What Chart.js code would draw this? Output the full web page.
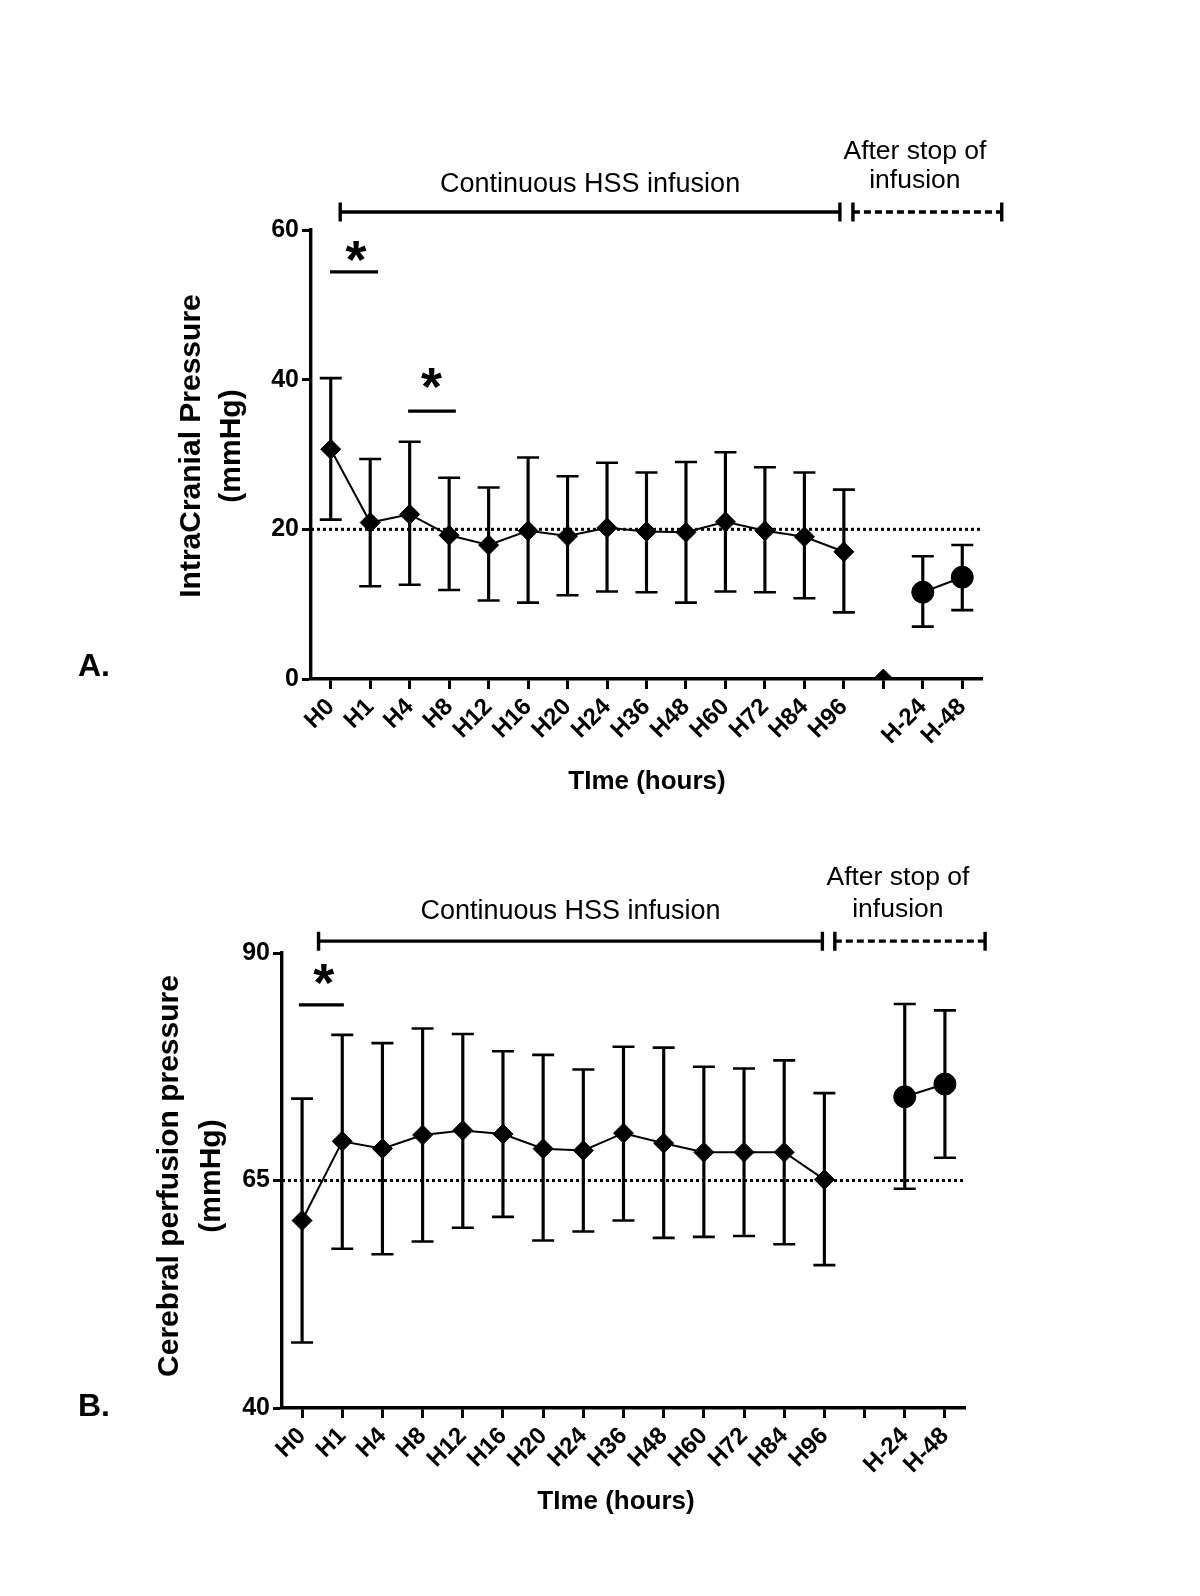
<!DOCTYPE html>
<html><head><meta charset="utf-8">
<script src="https://cdn.jsdelivr.net/npm/chart.js@4.4.1/dist/chart.umd.min.js"></script>
<style>
html,body{margin:0;padding:0;background:#fff;width:1200px;height:1596px;overflow:hidden}
canvas{position:absolute;left:0}
</style></head>
<body>
<canvas id="cA" width="1200" height="800" style="top:0px"></canvas>
<canvas id="cB" width="1200" height="796" style="top:800px"></canvas>
<script>
// ---------- DATA ----------
const categories = ['H0','H1','H4','H8','H12','H16','H20','H24','H36','H48','H60','H72','H84','H96','','H-24','H-48'];

// Panel A: IntraCranial Pressure (mmHg)
const icpMean  = [30.7, 20.9, 22.0, 19.2, 17.9, 19.8, 19.1, 20.2, 19.7, 19.6, 21.0, 19.8, 19.0, 17.0, null, null, null];
const icpAfter = [null, null, null, null, null, null, null, null, null, null, null, null, null, null, null, 11.6, 13.6];
const icpGap   = [null, null, null, null, null, null, null, null, null, null, null, null, null, null, 0, null, null];
const icpUpper = [40.2, 29.4, 31.7, 26.9, 25.6, 29.6, 27.1, 28.9, 27.6, 29.0, 30.3, 28.3, 27.6, 25.3, null, 16.4, 17.9];
const icpLower = [21.3, 12.4, 12.6, 11.9, 10.5, 10.2, 11.2, 11.7, 11.6, 10.2, 11.7, 11.6, 10.8, 8.9, null, 7.0, 9.2];
const icpTicks = [0, 20, 40, 60];
const icpRef = 20;

// Panel B: Cerebral perfusion pressure (mmHg)
const cppMean  = [60.6, 69.3, 68.5, 70.0, 70.5, 70.1, 68.5, 68.3, 70.2, 69.1, 68.1, 68.1, 68.1, 65.1, null, null, null];
const cppAfter = [null, null, null, null, null, null, null, null, null, null, null, null, null, null, null, 74.2, 75.6];
const cppUpper = [74.0, 81.0, 80.1, 81.7, 81.1, 79.2, 78.8, 77.2, 79.7, 79.6, 77.5, 77.3, 78.2, 74.6, null, 84.4, 83.7];
const cppLower = [47.2, 57.5, 56.9, 58.3, 59.8, 61.0, 58.4, 59.4, 60.6, 58.7, 58.8, 58.9, 58.0, 55.7, null, 64.1, 67.5];
const cppTicks = [40, 65, 90];
const cppRef = 65;

// annotation texts
const periodLabel = 'Continuous HSS infusion';
const afterLabel = ['After stop of', 'infusion'];
const xTitle = 'TIme (hours)';

// ---------- RENDERING ----------
const FONT = '"Liberation Sans", Arial, Helvetica, sans-serif';

function annotationPlugin(a) {
  return {
    id: 'ann' + a.key,
    beforeDatasetsDraw(chart) {
      const {ctx, chartArea} = chart;
      const y = chart.scales.y;
      ctx.save();
      ctx.strokeStyle = '#000';
      ctx.lineWidth = 3;
      ctx.setLineDash([3, 3]);
      const py = y.getPixelForValue(a.ref);
      ctx.beginPath();
      ctx.moveTo(chartArea.left, py);
      ctx.lineTo(chartArea.right, py);
      ctx.stroke();
      ctx.restore();
    },
    afterDraw(chart) {
      const {ctx} = chart;
      const x = chart.scales.x, y = chart.scales.y;
      ctx.save();
      ctx.strokeStyle = '#000';
      ctx.fillStyle = '#000';
      const by = y.getPixelForValue(a.bracketY);
      const s0 = x.getPixelForValue(a.solid[0]), s1 = x.getPixelForValue(a.solid[1]);
      const d0 = x.getPixelForValue(a.dashed[0]), d1 = x.getPixelForValue(a.dashed[1]);
      ctx.lineWidth = 3.4;
      ctx.setLineDash([]);
      ctx.beginPath();
      ctx.moveTo(s0, by); ctx.lineTo(s1, by);
      [s0, s1, d0, d1].forEach(px => { ctx.moveTo(px, by - 9.5); ctx.lineTo(px, by + 9.5); });
      ctx.stroke();
      ctx.setLineDash([7, 4]);
      ctx.beginPath();
      ctx.moveTo(d0, by); ctx.lineTo(d1, by);
      ctx.stroke();
      ctx.setLineDash([]);
      ctx.font = '27px ' + FONT;
      ctx.textAlign = 'center';
      ctx.textBaseline = 'middle';
      ctx.fillText(periodLabel, (s0 + s1) / 2, y.getPixelForValue(a.periodTextY));
      ctx.font = '26.5px ' + FONT;
      ctx.fillText(afterLabel[0], x.getPixelForValue(a.afterX), y.getPixelForValue(a.afterY[0]));
      ctx.fillText(afterLabel[1], x.getPixelForValue(a.afterX), y.getPixelForValue(a.afterY[1]));
      a.sig.forEach(s => {
        const ly = y.getPixelForValue(s.y);
        ctx.lineWidth = 3.4;
        ctx.beginPath();
        ctx.moveTo(x.getPixelForValue(s.x0), ly);
        ctx.lineTo(x.getPixelForValue(s.x1), ly);
        ctx.stroke();
        ctx.font = 'bold 54px ' + FONT;
        ctx.textBaseline = 'middle';
        ctx.fillText('*', x.getPixelForValue(s.sx), y.getPixelForValue(s.sy) + 11);
      });
      ctx.font = 'bold 30px ' + FONT;
      ctx.textAlign = 'center';
      ctx.textBaseline = 'middle';
      for (let k = 0; k < 2; k++) {
        ctx.save();
        ctx.translate(a.yTitleX[k], a.yTitleCY);
        ctx.rotate(-Math.PI / 2);
        ctx.fillText(a.yTitle[k], 0, 0);
        ctx.restore();
      }
      ctx.font = 'bold 26px ' + FONT;
      ctx.fillText(xTitle, a.xTitle[0], a.xTitle[1]);
      ctx.font = 'bold 32px ' + FONT;
      ctx.textAlign = 'left';
      ctx.fillText(a.panel, a.panelPos[0], a.panelPos[1]);
      ctx.restore();
    }
  };
}

function makeChart(id, p) {
  const stems = p.upper.map((u, i) => (u == null ? null : [p.lower[i], u]));
  const datasets = [
    { type: 'line', data: p.mean, borderColor: '#000', backgroundColor: '#000', borderWidth: 2,
      pointStyle: 'rectRot', pointRadius: 10, pointBorderWidth: 1, spanGaps: false, order: 0 },
    { type: 'line', data: p.after, borderColor: '#000', backgroundColor: '#000', borderWidth: 2,
      pointStyle: 'circle', pointRadius: 11, pointBorderWidth: 1, spanGaps: false, order: 0 },
    { type: 'line', data: p.upper, showLine: false, borderColor: '#000', backgroundColor: '#000',
      pointStyle: 'line', pointRadius: 11, pointBorderWidth: 2.6, order: 1 },
    { type: 'line', data: p.lower, showLine: false, borderColor: '#000', backgroundColor: '#000',
      pointStyle: 'line', pointRadius: 11, pointBorderWidth: 2.6, order: 1 },
    { type: 'bar', data: stems, backgroundColor: '#000', borderWidth: 0, barThickness: 2.5, order: 2 }
  ];
  if (p.gap) datasets.push({ type: 'line', data: p.gap, showLine: false, borderColor: '#000', backgroundColor: '#000',
      pointStyle: 'rectRot', pointRadius: 10, pointBorderWidth: 1, order: 0 });

  return new Chart(document.getElementById(id), {
    type: 'bar',
    data: { labels: categories, datasets },
    options: {
      responsive: false,
      animation: false,
      devicePixelRatio: 1,
      events: [],
      layout: { padding: { top: p.area.top, left: 0, right: p.canvasW - p.area.right, bottom: 0 } },
      plugins: { legend: { display: false }, tooltip: { enabled: false } },
      scales: {
        x: {
          type: 'category',
          offset: true,
          grid: { display: true, offset: false, drawOnChartArea: false, drawTicks: true, tickLength: 10, tickWidth: 3, color: '#000' },
          border: { display: true, width: 3.4, color: '#000' },
          ticks: { color: '#000', autoSkip: false, minRotation: 45, maxRotation: 45, padding: 4,
                   font: { family: FONT, size: 24, weight: 'bold' } },
          afterFit(s) { s.height = p.canvasH - p.area.bottom; s.paddingLeft = 0; s.paddingRight = 0; }
        },
        y: {
          min: p.ticks[0], max: p.ticks[p.ticks.length - 1],
          afterBuildTicks(s) { s.ticks = p.ticks.map(v => ({ value: v })); },
          grid: { display: true, drawOnChartArea: false, drawTicks: true, tickLength: 9, tickWidth: 3, color: '#000' },
          border: { display: true, width: 3.4, color: '#000' },
          ticks: { color: '#000', padding: 3, font: { family: FONT, size: 25, weight: 'bold' } },
          afterFit(s) { s.width = p.area.left; s.paddingTop = 0; s.paddingBottom = 0; }
        }
      }
    },
    plugins: [annotationPlugin(p.ann)]
  });
}

makeChart('cA', {
  canvasW: 1200, canvasH: 800,
  area: { left: 311, top: 230, right: 982, bottom: 679 },
  mean: icpMean, after: icpAfter, gap: icpGap, upper: icpUpper, lower: icpLower, ticks: icpTicks,
  ann: {
    key: 'A', ref: icpRef,
    bracketY: 62.4, solid: [0.24, 12.9], dashed: [13.23, 17.0],
    periodTextY: 66.1, afterX: 14.8, afterY: [70.4, 66.6],
    sig: [ { y: 54.4, x0: -0.02, x1: 1.2, sx: 0.64, sy: 57.1 },
           { y: 35.8, x0: 1.96, x1: 3.17, sx: 2.55, sy: 40.1 } ],
    yTitle: ['IntraCranial Pressure', '(mmHg)'], yTitleX: [192, 232], yTitleCY: 446,
    xTitle: [647, 782], panel: 'A.', panelPos: [78, 667]
  }
});

makeChart('cB', {
  canvasW: 1200, canvasH: 796,
  area: { left: 282, top: 153, right: 965, bottom: 608 },
  mean: cppMean, after: cppAfter, gap: null, upper: cppUpper, lower: cppLower, ticks: cppTicks,
  ann: {
    key: 'B', ref: cppRef,
    bracketY: 91.3, solid: [0.41, 12.95], dashed: [13.26, 17.0],
    periodTextY: 94.6, afterX: 14.83, afterY: [98.3, 94.8],
    sig: [ { y: 84.3, x0: -0.08, x1: 1.04, sx: 0.54, sy: 87.6 } ],
    yTitle: ['Cerebral perfusion pressure', '(mmHg)'], yTitleX: [170, 212], yTitleCY: 376,
    xTitle: [616, 702], panel: 'B.', panelPos: [78, 607]
  }
});
</script>
</body></html>
